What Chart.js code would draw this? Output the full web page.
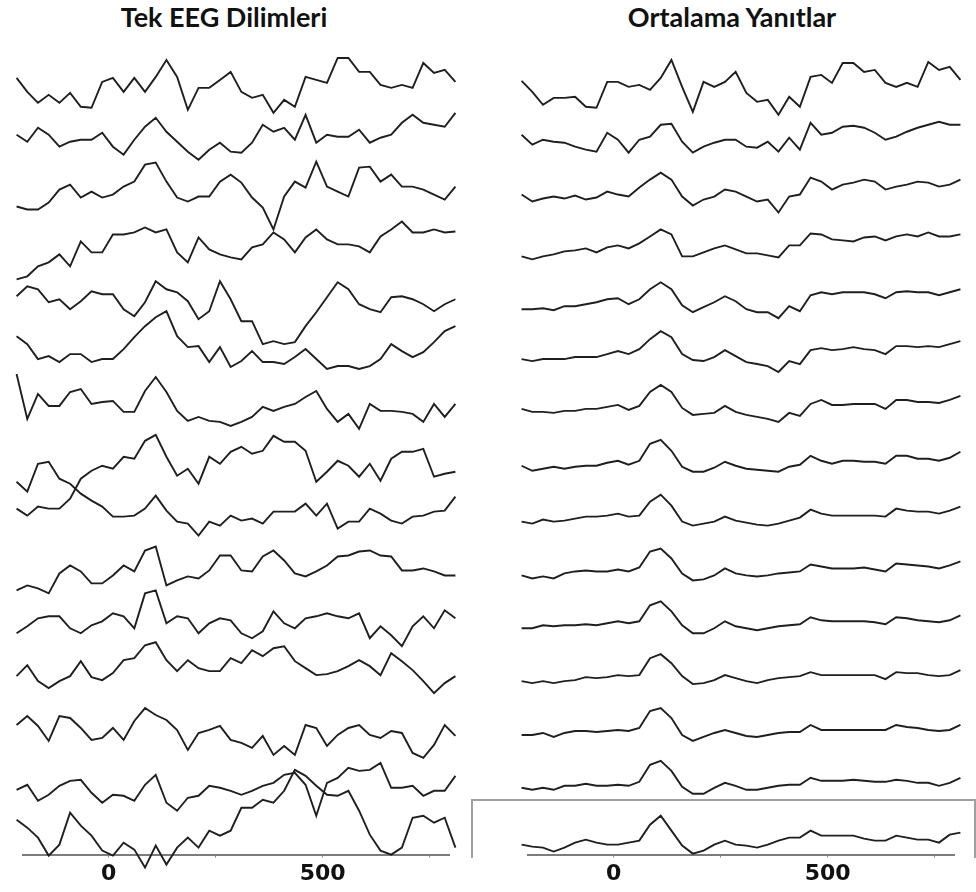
<!DOCTYPE html>
<html>
<head>
<meta charset="utf-8">
<script src="https://cdn.jsdelivr.net/npm/chart.js@4.4.1/dist/chart.umd.min.js"></script>
<style>
  body { margin: 0; background: #fff; }
  #wrap { position: relative; width: 976px; height: 892px; overflow: hidden; }
  canvas { position: absolute; top: 0; }
  #left { left: 0; }
  #right { left: 470px; }
  .title { position: absolute; top: 4px; font: bold 27px Lato, sans-serif; line-height: 26px; text-align: center; color: #111; }
</style>
</head>
<body>
<div id="wrap">
  <div class="title" style="left:0;width:448px">Tek EEG Dilimleri</div>
  <div class="title" style="left:488px;width:488px">Ortalama Yanıtlar</div>
  <canvas id="left" width="470" height="892"></canvas>
  <canvas id="right" width="506" height="892"></canvas>
</div>
<script>
// time in ms relative to stimulus onset
const times = [-215, -190, -165, -140, -115, -90, -65, -40, -15, 10, 35, 60, 85, 110, 135, 160, 185, 210, 235, 260, 285,
  310, 335, 360, 385, 410, 435, 460, 485, 510, 535, 560, 585, 610, 635, 660, 685, 710, 735, 760, 785, 810]
const tickValues = [0, 250, 500, 750]
const tickLabels = ['0', '', '500', '']

// single trials (amplitude relative to each trace's baseline)
const trial01 = [14, 0, -11, -3, -11, -1, -15, -16, 10, 14, 0, 14, 0, 15, 32, 15, -18, 4, 4, 12, 20, 0, -6, -3, -21, -8, -15, 15, 12, 9, 34, 34, 20, 20, 7, 4, 7, 4, 29, 19, 22, 10]
const trial02 = [9, 2, 16, 9, -3, 2, 4, 4, 11, -3, -11, 4, 17, 26, 12, 2, -8, -16, -6, 1, -8, -9, 1, 19, 12, 16, 4, 29, 1, 9, 7, 7, 14, 1, 6, 9, 21, 29, 21, 19, 17, 31]
const trial03 = [-11, -14, -14, -7, 6, 11, -2, 4, -2, 1, 9, 14, 31, 33, 14, -2, -6, -1, -1, 14, 21, 13, -2, -12, -34, -1, 14, 8, 34, 9, 4, -1, 28, 29, 14, 21, 9, 9, 6, 1, -4, 9]
const trial04 = [-32, -29, -19, -15, -7, -19, 6, -5, -5, 13, 13, 15, 20, 15, 18, -5, -15, 10, -2, -7, -10, -12, 0, 3, 15, 8, -5, 10, 18, 8, 3, 3, 1, -5, 11, 18, 26, 15, 15, 18, 15, 16]
const trial05 = [3, 13, 10, -3, 0, -10, -2, 8, 5, 5, -10, -17, -3, 18, 10, 7, -2, -20, -12, 18, 0, -22, -22, -45, -42, -45, -43, -27, -13, 2, 17, 10, -5, -10, -13, 2, 3, 0, -5, -12, -5, 0]
const trial06 = [15, 7, -8, -5, -11, -3, -3, -11, -8, -8, 2, 14, 25, 34, 40, 15, 4, 5, -11, 4, -16, -10, 0, -11, -11, -13, -6, 2, -8, -18, -15, -15, -18, -15, -8, 7, 0, -6, -1, 9, 20, 25]
const trial07 = [29, -16, 9, -3, -3, 11, 14, -1, 1, 2, -9, -9, 12, 26, 11, -8, -18, -14, -18, -19, -23, -19, -14, -4, -8, -4, -1, 6, 12, -6, -19, -11, -26, -1, -8, -8, -9, -11, -19, -1, -14, -1]
const trial08 = [-54, -61, -52, -54, -54, -44, -24, -16, -11, -14, -2, -4, 14, 20, -2, -21, -14, -29, -2, -9, 3, 8, 1, 4, 19, 13, 13, 4, -27, -17, -6, -11, -22, -9, -26, -4, 3, 3, 6, -22, -19, -17]
const trial09 = [25, 15, 43, 45, 28, 23, 13, 6, 0, -10, -10, -9, -2, 11, -4, -15, -17, -29, -15, -19, -9, -14, -12, -17, -5, -5, -5, 3, -9, 3, -22, -15, -15, -2, -7, -14, -17, -10, -9, -5, -4, 10]
const trial10 = [-32, -27, -30, -35, -15, -7, -13, -25, -25, -17, -7, -13, 8, 12, -27, -22, -18, -20, -12, 3, 3, -12, -13, 2, 8, -2, -15, -18, -13, -7, 2, 3, 7, 8, 3, 2, -12, -12, -10, -13, -17, -17]
const trial11 = [-23, -16, -8, -6, -6, -18, -23, -15, -11, -3, -6, -18, 17, 20, -13, -6, -8, -23, -13, -8, -10, -23, -28, -21, -1, -13, -18, -8, -6, -3, -6, -8, -3, -28, -16, -25, -36, -16, -6, -18, 0, -8]
const trial12 = [-14, -3, -19, -26, -19, -14, 1, -15, -18, -11, 2, 4, 17, 20, 2, -9, 2, -6, -9, -9, 4, -1, 12, 6, 14, 16, 1, -6, -13, -12, -9, -4, 2, -4, -13, 9, 1, -8, -19, -31, -21, -14]
const trial13 = [-11, -2, -12, -27, -2, -4, -14, -26, -24, -14, -26, -7, 6, -1, -6, -16, -36, -19, -16, -12, -26, -29, -34, -22, -41, -32, -41, -11, -14, -32, -21, -14, -11, -21, -24, -17, -19, -39, -44, -31, -11, -22]
const trial14 = [-24, -19, -35, -29, -20, -15, -14, -27, -37, -29, -30, -35, -19, -9, -37, -45, -32, -30, -20, -22, -25, -29, -25, -20, -17, -9, -7, -19, -50, -17, -12, -2, -5, -4, 3, -22, -22, -20, -30, -25, -25, -10]
const trial15 = [-2, -10, -20, -38, -27, 5, -8, -18, -33, -38, -25, -32, -50, -28, -47, -30, -20, -30, -13, -18, -13, 10, 10, 18, 15, 27, 48, 42, 32, 23, 22, 27, 7, -17, -33, -37, -30, 0, 2, -5, 0, -30]

// running averages
const avg01 = [11, 0, -13, -6, -6, -5, -15, -16, 10, 10, 5, 7, 2, 14, 32, 5, -20, 10, 5, 10, 20, -1, -10, -8, -23, -5, -15, 15, 17, 9, 29, 29, 20, 22, 9, 5, 9, 5, 30, 22, 25, 12]
const avg02 = [9, -1, 4, 2, 1, -3, -6, -8, 11, 4, -9, 4, 7, 19, 20, 2, -9, -3, 1, 4, 4, -3, -4, 2, -8, 6, -6, 21, 9, 11, 17, 18, 16, 11, 4, 7, 12, 16, 19, 22, 19, 19]
const avg03 = [1, -6, -3, -1, -3, 0, -4, -2, 4, 1, -1, 8, 16, 23, 16, -1, -10, -4, -1, 6, 4, -1, -6, -4, -17, -1, 1, 18, 14, 6, 11, 13, 16, 14, 6, 9, 11, 14, 13, 9, 11, 16]
const avg04 = [-9, -12, -9, -7, -4, -3, -1, -5, 0, 2, -1, 4, 11, 18, 13, -9, -9, -5, -1, 2, -2, -6, -6, -8, -10, 2, 2, 14, 13, 8, 7, 6, 10, 11, 7, 11, 13, 11, 15, 11, 11, 13]
const avg05 = [-10, -10, -9, -11, -7, -7, -5, -3, 0, 1, -5, 0, 10, 17, 10, -6, -13, -8, -3, 3, -2, -10, -13, -13, -19, -7, -12, 4, 7, 5, 7, 7, 7, 5, 1, 7, 8, 7, 7, 4, 7, 10]
const avg06 = [-8, -10, -8, -8, -8, -6, -6, -6, -3, 0, -3, 2, 12, 20, 14, -3, -9, -10, -6, 1, -5, -11, -13, -15, -21, -10, -13, 1, 3, 1, 2, 4, 2, 1, -3, 5, 5, 4, 5, 4, 7, 10]
const avg07 = [-6, -9, -9, -10, -8, -8, -6, -6, -4, -2, -7, -3, 11, 18, 11, -5, -12, -11, -10, -3, -9, -12, -14, -16, -19, -10, -13, -1, 3, -2, -2, -1, -1, -1, -6, 3, 3, 1, 1, 0, 3, 7]
const avg08 = [-11, -16, -14, -12, -14, -12, -11, -11, -8, -6, -10, -6, 11, 15, 4, -12, -17, -17, -13, -7, -11, -14, -15, -16, -17, -12, -10, -1, -6, -9, -6, -6, -7, -7, -9, -1, -1, -4, -4, -6, -3, 3]
const avg09 = [-15, -17, -13, -15, -14, -12, -10, -10, -9, -7, -10, -9, 5, 12, 1, -15, -19, -17, -15, -10, -14, -16, -18, -19, -17, -14, -11, -3, -7, -9, -9, -9, -9, -9, -10, -2, -4, -5, -5, -7, -4, 0]
const avg10 = [-17, -20, -18, -20, -15, -13, -12, -13, -13, -11, -13, -9, 7, 10, 0, -15, -22, -21, -17, -10, -15, -17, -18, -17, -15, -14, -13, -6, -8, -10, -10, -10, -9, -11, -13, -5, -6, -7, -8, -10, -7, -3]
const avg11 = [-18, -18, -15, -16, -15, -15, -14, -15, -13, -11, -13, -11, 5, 9, -1, -15, -23, -23, -18, -11, -16, -18, -20, -18, -16, -15, -14, -7, -10, -11, -11, -11, -11, -12, -14, -7, -8, -10, -11, -12, -10, -5]
const avg12 = [-19, -21, -19, -21, -19, -18, -15, -16, -15, -13, -14, -13, 4, 8, -1, -14, -22, -21, -18, -13, -16, -19, -21, -18, -16, -15, -14, -10, -13, -13, -13, -13, -13, -13, -17, -10, -11, -11, -13, -14, -13, -8]
const avg13 = [-21, -21, -19, -23, -19, -17, -17, -18, -17, -16, -17, -14, 3, 6, -4, -21, -27, -23, -19, -16, -19, -22, -23, -21, -19, -18, -18, -11, -16, -16, -16, -16, -16, -16, -16, -11, -13, -14, -16, -17, -16, -11]
const avg14 = [-22, -24, -22, -24, -20, -20, -18, -20, -20, -19, -20, -16, 1, 5, -5, -21, -28, -28, -22, -17, -20, -24, -24, -22, -20, -19, -19, -12, -15, -15, -15, -14, -15, -16, -16, -14, -15, -17, -17, -20, -17, -12]
const avg15 = [-27, -29, -30, -34, -30, -25, -22, -25, -27, -27, -25, -23, -7, 2, -13, -28, -36, -33, -27, -23, -27, -28, -30, -27, -23, -20, -20, -13, -18, -18, -18, -18, -21, -23, -23, -18, -20, -22, -22, -25, -17, -15]

const singleTrials = [trial01, trial02, trial03, trial04, trial05, trial06, trial07, trial08,
  trial09, trial10, trial11, trial12, trial13, trial14, trial15]
const averages = [avg01, avg02, avg03, avg04, avg05, avg06, avg07, avg08,
  avg09, avg10, avg11, avg12, avg13, avg14, avg15]

const TRACE_GAP = 52
const BOTTOM_GAP = 37
const Y_MAX = 812

function stackTraces(traces) {
  const n = traces.length
  return traces.map((amps, i) => ({
    data: amps.map((v, k) => ({ x: times[k], y: v + (n - 1 - i) * TRACE_GAP + BOTTOM_GAP })),
    borderColor: '#1f1f1f',
    borderWidth: 1.9,
    pointRadius: 0,
    tension: 0,
    clip: false
  }))
}

function makeOptions(padLeft, padRight) {
  return {
    responsive: false,
    animation: false,
    events: [],
    layout: { padding: { left: padLeft, right: padRight, top: 45, bottom: 2 } },
    plugins: { legend: { display: false }, tooltip: { enabled: false } },
    scales: {
      x: {
        type: 'linear',
        min: -200,
        max: 795,
        afterBuildTicks: axis => { axis.ticks = tickValues.map(v => ({ value: v })) },
        ticks: {
          autoSkip: false,
          maxRotation: 0,
          padding: 3,
          color: '#111',
          font: { family: 'DejaVu Sans', weight: 'bold', size: 22 },
          callback: v => tickLabels[tickValues.indexOf(v)]
        },
        grid: { drawOnChartArea: false, drawTicks: true, tickLength: 3, color: '#888' },
        border: { display: true, color: '#7c7c7c', width: 2 }
      },
      y: { display: false, min: 0, max: Y_MAX }
    }
  }
}

// grey frame around the last averaged trace
const lastTraceBox = {
  id: 'lastTraceBox',
  afterDraw(chart) {
    const { ctx } = chart
    ctx.save()
    ctx.strokeStyle = '#a0a0a0'
    ctx.lineWidth = 2
    ctx.beginPath()
    ctx.moveTo(2, 858)
    ctx.lineTo(2, 800)
    ctx.lineTo(505, 800)
    ctx.lineTo(505, 858)
    ctx.stroke()
    ctx.restore()
  }
}

new Chart(document.getElementById('left').getContext('2d'), {
  type: 'line',
  data: { datasets: stackTraces(singleTrials) },
  options: makeOptions(23, 21)
})

new Chart(document.getElementById('right').getContext('2d'), {
  type: 'line',
  data: { datasets: stackTraces(averages) },
  options: makeOptions(58, 22),
  plugins: [lastTraceBox]
})
</script>
</body>
</html>
